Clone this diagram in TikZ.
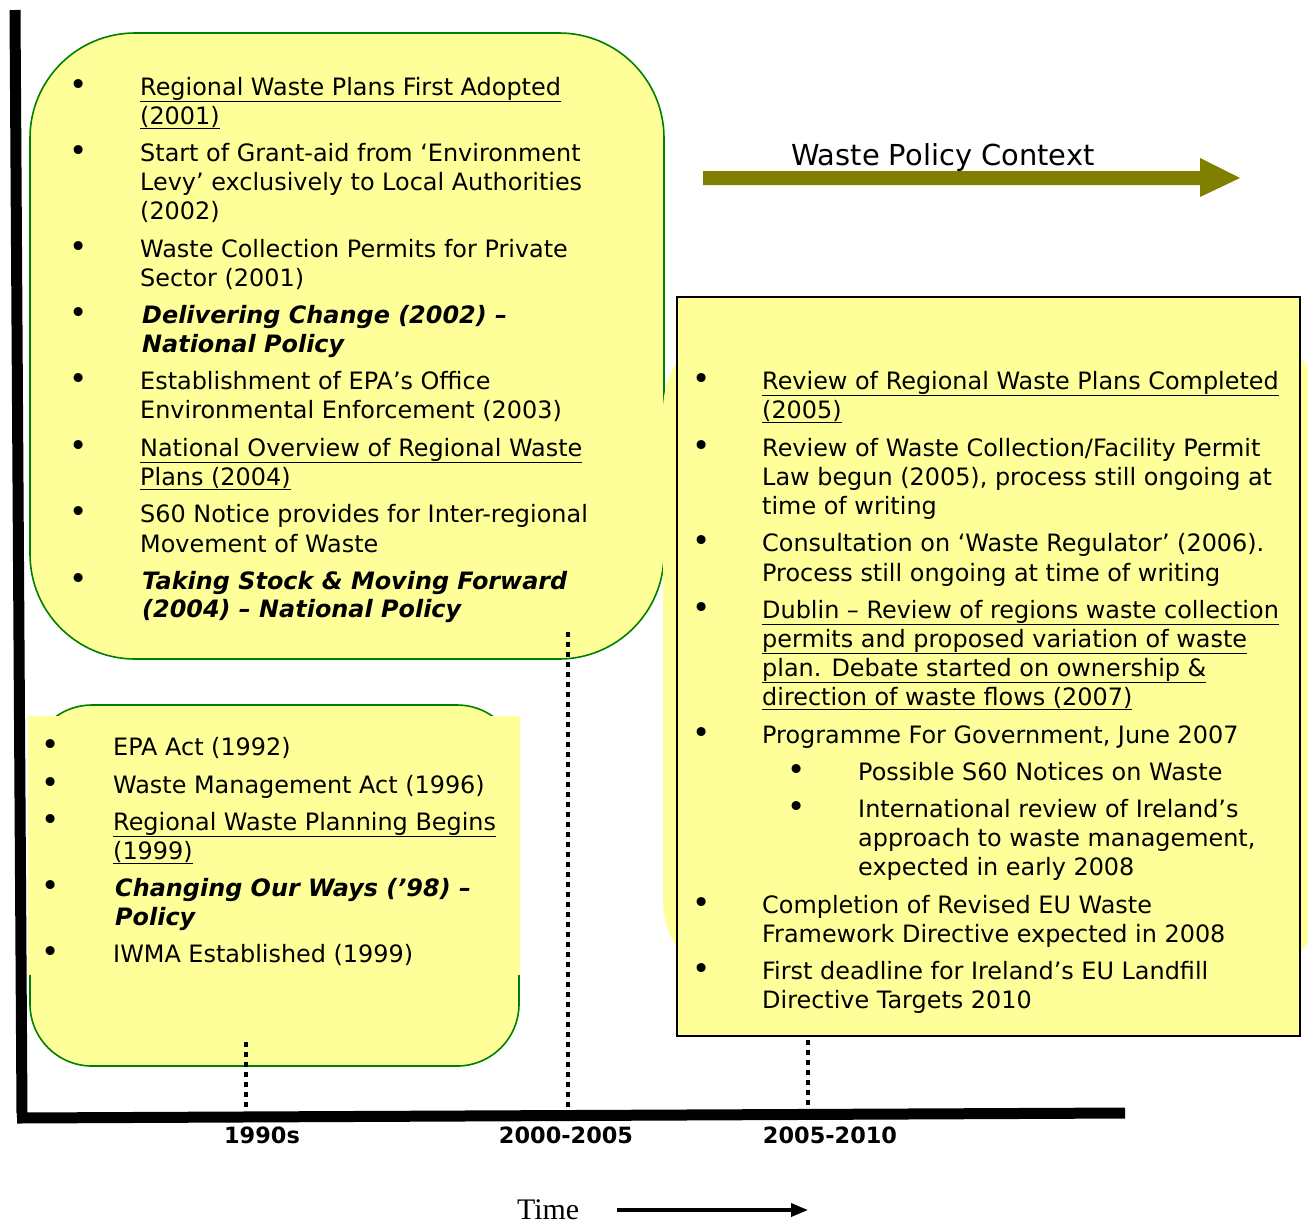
\documentclass[tikz,border=0pt]{standalone}
\usepackage{fontspec}
\setmainfont{DejaVu Sans}
\newfontfamily\timesf{Liberation Serif}
\usetikzlibrary{arrows.meta}
\definecolor{boxyellow}{HTML}{FFFF99}
\definecolor{boxgreen}{HTML}{008000}
\definecolor{olivearrow}{HTML}{808000}
\newcommand\tline[4]{\node[txt] (#1) at (#2,#3) {#4};}
\newcommand\tbul[3]{\node[bul] (#1) at (#2,#3) {•};}
\begin{document}
\begin{tikzpicture}[x=1bp,y=-1bp,
  txt/.style={anchor=base west, inner sep=0pt, font=\fontsize{24}{29}\selectfont},
  bul/.style={anchor=base west, inner sep=0pt, font=\fontsize{31}{29}\selectfont},
  bitxt/.style={txt, font=\fontsize{24}{29}\selectfont\bfseries\itshape},
  roundbox/.style={fill=boxyellow, draw=boxgreen, line width=1.6bp},
  axislabel/.style={anchor=base, inner sep=0pt, font=\fontsize{22.5}{26}\selectfont\bfseries},
  tick/.style={line width=4.5bp, dash pattern=on 5bp off 5bp},
  axisline/.style={line width=11bp}]
\useasboundingbox (0,0) rectangle (1308,1227);

% ---------- top-left box (2000-2005)
\draw[roundbox, rounded corners=105bp] (30,33) rectangle (664,659);

% ---------- right rounded background
\fill[boxyellow, rounded corners=90bp] (663,320) rectangle (1318,990);

% ---------- bottom-left box (1990s)
\draw[roundbox, rounded corners=62bp] (30,705) rectangle (519,1066);
\fill[boxyellow] (28,716) rectangle (520,975);

% ---------- right rectangle (2005-2010)
\draw[fill=boxyellow, draw=black, line width=2bp] (677,297) rectangle (1300,1036);

% ---------- axes
\coordinate (vtop) at (15,10);
\coordinate (origin) at (22,1118);
\coordinate (hend) at (1125,1113);
\draw[axisline] (vtop) -- ([yshift=5bp]origin);
\draw[axisline] ([xshift=-5bp]origin) -- (hend);

% ---------- dotted ticks
\coordinate (t1a) at (246,1042); \coordinate (t1b) at (246,1112);
\coordinate (t2a) at (568,632);  \coordinate (t2b) at (568,1110);
\coordinate (t3a) at (808,1040); \coordinate (t3b) at (808,1108);
\draw[tick] (t1a) -- (t1b);
\draw[tick] (t2a) -- (t2b);
\draw[tick] (t3a) -- (t3b);

\node[axislabel] (l1990) at (262,1143) {1990s};
\node[axislabel] (l2000) at (566,1143) {2000-2005};
\node[axislabel] (l2005) at (830,1143) {2005-2010};

% ---------- time arrow
\node[anchor=base west, inner sep=0pt, font=\timesf\fontsize{30}{34}\selectfont] (time) at (517,1219) {Time};
\coordinate (tarrowend) at (808,1210);
\draw[line width=3.5bp, -{Triangle[length=17bp,width=13bp]}] (617,1210) -- (tarrowend);

% ---------- waste policy context arrow
\fill[olivearrow] (703,171) -- (1200,171) -- (1200,158) -- (1240,178) -- (1200,197) -- (1200,185) -- (703,185) -- cycle;
\node[anchor=base west, inner sep=0pt, font=\fontsize{29}{34}\selectfont] (wpc) at (791,165) {Waste Policy Context};

% ---------- top-left box text
\tbul{a1b}{69}{95}
\tline{a1a}{140}{95}{\underline{Regional Waste Plans First Adopted}}
\tline{a1c}{140}{124}{\underline{(2001)}}
\tbul{a2b}{69}{161}
\tline{a2a}{140}{161}{Start of Grant-aid from ‘Environment}
\tline{a2c}{140}{190}{Levy’ exclusively to Local Authorities}
\tline{a2d}{140}{219}{(2002)}
\tbul{a3b}{69}{257}
\tline{a3a}{140}{257}{Waste Collection Permits for Private}
\tline{a3c}{140}{286}{Sector (2001)}
\tbul{a4b}{69}{323}
\node[bitxt] (a4a) at (142,323) {Delivering Change (2002) –};
\node[bitxt] (a4c) at (142,352) {National Policy};
\tbul{a5b}{69}{389}
\tline{a5a}{140}{389}{Establishment of EPA’s Office}
\tline{a5c}{140}{418}{Environmental Enforcement (2003)}
\tbul{a6b}{69}{456}
\tline{a6a}{140}{456}{\underline{National Overview of Regional Waste}}
\tline{a6c}{140}{485}{\underline{Plans (2004)}}
\tbul{a7b}{69}{522}
\tline{a7a}{140}{522}{S60 Notice provides for Inter-regional}
\tline{a7c}{140}{552}{Movement of Waste}
\tbul{a8b}{69}{589}
\node[bitxt] (a8a) at (142,589) {Taking Stock \& Moving Forward};
\node[bitxt] (a8c) at (142,617) {(2004) – National Policy};

% ---------- bottom-left box text
\tbul{b1b}{41}{755}
\tline{b1a}{113}{755}{EPA Act (1992)}
\tbul{b2b}{41}{793}
\tline{b2a}{113}{793}{Waste Management Act (1996)}
\tbul{b3b}{41}{830}
\tline{b3a}{113}{830}{\underline{Regional Waste Planning Begins}}
\tline{b3c}{113}{859}{\underline{(1999)}}
\tbul{b4b}{41}{896}
\node[bitxt] (b4a) at (115,896) {Changing Our Ways (’98) –};
\node[bitxt] (b4c) at (115,925) {Policy};
\tbul{b5b}{41}{962}
\tline{b5a}{113}{962}{IWMA Established (1999)}

% ---------- right box text
\tbul{c1b}{692}{389}
\tline{c1a}{762}{389}{\underline{Review of Regional Waste Plans Completed}}
\tline{c1c}{762}{418}{\underline{(2005)}}
\tbul{c2b}{692}{456}
\tline{c2a}{762}{456}{Review of Waste Collection/Facility Permit}
\tline{c2c}{762}{485}{Law begun (2005), process still ongoing at}
\tline{c2d}{762}{514}{time of writing}
\tbul{c3b}{692}{551}
\tline{c3a}{762}{551}{Consultation on ‘Waste Regulator’ (2006).}
\tline{c3c}{762}{581}{Process still ongoing at time of writing}
\tbul{c4b}{692}{618}
\tline{c4a}{762}{618}{\underline{Dublin – Review of regions waste collection}}
\tline{c4c}{762}{647}{\underline{permits and proposed variation of waste}}
\tline{c4d}{762}{676}{\underline{plan. Debate started on ownership \&}}
\tline{c4e}{762}{705}{\underline{direction of waste flows (2007)}}
\tbul{c5b}{692}{743}
\tline{c5a}{762}{743}{Programme For Government, June 2007}
\tbul{c6b}{787}{780}
\tline{c6a}{858}{780}{Possible S60 Notices on Waste}
\tbul{c7b}{787}{817}
\tline{c7a}{858}{817}{International review of Ireland’s}
\tline{c7c}{858}{846}{approach to waste management,}
\tline{c7d}{858}{875}{expected in early 2008}
\tbul{c8b}{692}{913}
\tline{c8a}{762}{913}{Completion of Revised EU Waste}
\tline{c8c}{762}{942}{Framework Directive expected in 2008}
\tbul{c9b}{692}{979}
\tline{c9a}{762}{979}{First deadline for Ireland’s EU Landfill}
\tline{c9c}{762}{1008}{Directive Targets 2010}
\end{tikzpicture}
\end{document}
